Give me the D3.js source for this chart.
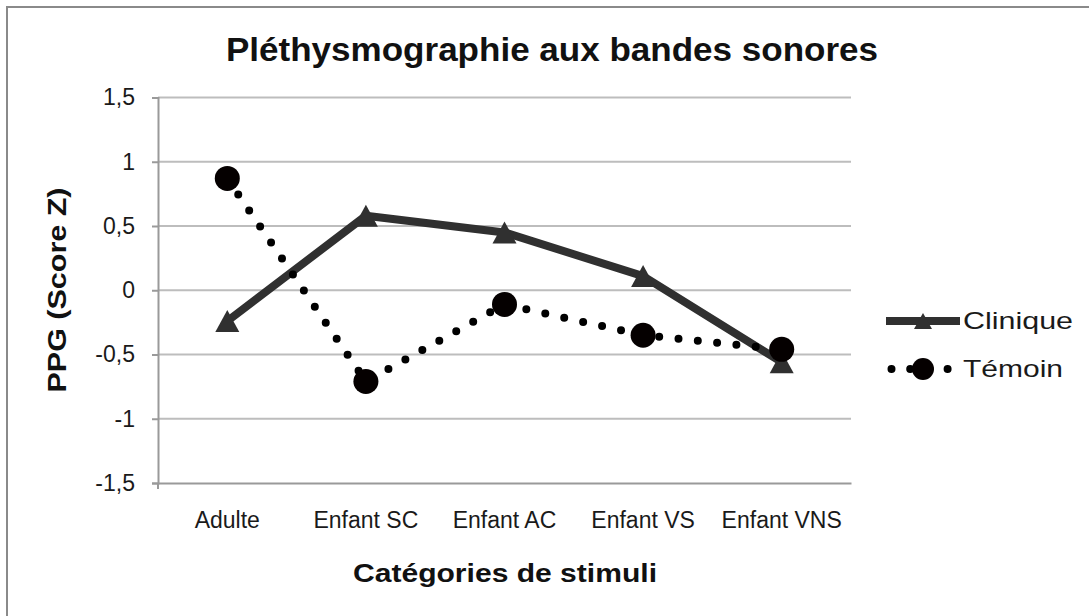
<!DOCTYPE html>
<html>
<head>
<meta charset="utf-8">
<script src="https://cdn.jsdelivr.net/npm/d3@7"></script>
<style>
  html, body { margin: 0; padding: 0; background: #fff; }
  svg { display: block; font-family: "Liberation Sans", Arial, sans-serif; }
</style>
</head>
<body>
<svg id="chart" width="1089" height="616"></svg>
<script>
const categories = ["Adulte", "Enfant SC", "Enfant AC", "Enfant VS", "Enfant VNS"];
const clinique = [-0.24, 0.58, 0.45, 0.11, -0.56];
const temoin = [0.87, -0.71, -0.11, -0.35, -0.46];
const yTicks = [-1.5, -1, -0.5, 0, 0.5, 1, 1.5];
const yTickLabels = ["-1,5", "-1", "-0,5", "0", "0,5", "1", "1,5"];
const seriesNames = ["Clinique", "Témoin"];
const titleText = "Pléthysmographie aux bandes sonores";
const xTitleText = "Catégories de stimuli";
const yTitleText = "PPG (Score Z)";

const svg = d3.select("#chart");
const W = 1089, H = 616;
const plot = { left: 158, right: 851, top: 97.5, bottom: 483 };

// frame
svg.append("rect").attr("x", 7).attr("y", 7).attr("width", 1200).attr("height", 800)
  .attr("fill", "#fff").attr("stroke", "#8a8a8a").attr("stroke-width", 2);

const x = d3.scaleBand().domain(categories).range([plot.left, plot.right]).padding(0);
const y = d3.scaleLinear().domain([-1.5, 1.5]).range([plot.bottom, plot.top]);
const cx = c => x(c) + x.bandwidth() / 2;

// gridlines
svg.append("g").selectAll("line").data(yTicks.filter(t => t !== -1.5)).join("line")
  .attr("x1", plot.left).attr("x2", plot.right)
  .attr("y1", d => y(d)).attr("y2", d => y(d))
  .attr("stroke", "#bdbdbd").attr("stroke-width", 2);

// y axis
const yAxis = d3.axisLeft(y).tickValues(yTicks).tickSize(6).tickPadding(17)
  .tickFormat((d, i) => yTickLabels[i]);
const gy = svg.append("g").attr("transform", `translate(${plot.left},0)`).call(yAxis);
gy.select(".domain").attr("stroke", "#9a9a9a").attr("stroke-width", 2);
gy.selectAll(".tick line").attr("stroke", "#9a9a9a").attr("stroke-width", 2);
gy.selectAll(".tick text").attr("font-size", 23).attr("fill", "#1a1a1a")
  .attr("font-family", "Liberation Sans, Arial, sans-serif");

// x axis
const xAxis = d3.axisBottom(x).tickSize(0).tickPadding(29);
const gx = svg.append("g").attr("transform", `translate(0,${plot.bottom})`).call(xAxis);
gx.select(".domain").attr("stroke", "#9a9a9a").attr("stroke-width", 2);
gx.selectAll(".tick text").attr("font-size", 23).attr("fill", "#1a1a1a")
  .attr("font-family", "Liberation Sans, Arial, sans-serif");
svg.append("line").attr("x1", plot.left).attr("x2", plot.left)
  .attr("y1", plot.bottom).attr("y2", plot.bottom + 6)
  .attr("stroke", "#9a9a9a").attr("stroke-width", 2);

// lines
const line = d3.line().x((d, i) => cx(categories[i])).y(d => y(d));

svg.append("path").datum(clinique).attr("d", line)
  .attr("fill", "none").attr("stroke", "#303030").attr("stroke-width", 8)
  .attr("stroke-linejoin", "round");

svg.append("path").datum(temoin).attr("d", line)
  .attr("fill", "none").attr("stroke", "#000").attr("stroke-width", 8)
  .attr("stroke-linecap", "round").attr("stroke-dasharray", "0 19.4");

const tri = (w, h) => `M0,${-h / 2}L${w / 2},${h / 2}L${-w / 2},${h / 2}Z`;

svg.append("g").selectAll("path").data(clinique).join("path")
  .attr("transform", (d, i) => `translate(${cx(categories[i])},${y(d)})`)
  .attr("d", tri(24, 22)).attr("fill", "#303030");

svg.append("g").selectAll("circle").data(temoin).join("circle")
  .attr("cx", (d, i) => cx(categories[i])).attr("cy", d => y(d))
  .attr("r", 12.5).attr("fill", "#050000");

// titles
svg.append("text").attr("x", 552).attr("y", 61).attr("text-anchor", "middle")
  .attr("font-size", 34).attr("font-weight", "bold").attr("fill", "#111")
  .attr("textLength", 652).attr("lengthAdjust", "spacingAndGlyphs").text(titleText);

svg.append("text").attr("x", 505).attr("y", 582).attr("text-anchor", "middle")
  .attr("font-size", 26).attr("font-weight", "bold").attr("fill", "#111")
  .attr("textLength", 304).attr("lengthAdjust", "spacingAndGlyphs").text(xTitleText);

svg.append("text").attr("transform", "translate(66,290) rotate(-90)").attr("text-anchor", "middle")
  .attr("font-size", 26).attr("font-weight", "bold").attr("fill", "#111")
  .attr("textLength", 205).attr("lengthAdjust", "spacingAndGlyphs").text(yTitleText);

// legend
const leg = svg.append("g");
const legY = [321, 369];
leg.append("line").attr("x1", 886).attr("x2", 960).attr("y1", legY[0]).attr("y2", legY[0])
  .attr("stroke", "#303030").attr("stroke-width", 8);
leg.append("path").attr("transform", `translate(923,${legY[0]})`).attr("d", tri(18, 16)).attr("fill", "#303030");
leg.append("line").attr("x1", 891.5).attr("x2", 960).attr("y1", legY[1]).attr("y2", legY[1])
  .attr("stroke", "#000").attr("stroke-width", 8).attr("stroke-linecap", "round")
  .attr("stroke-dasharray", "0 18.7");
leg.append("circle").attr("cx", 923).attr("cy", legY[1]).attr("r", 11).attr("fill", "#050000");
leg.selectAll("text").data(seriesNames).join("text")
  .attr("x", 963).attr("y", (d, i) => legY[i] + 8)
  .attr("font-size", 24).attr("fill", "#1a1a1a")
  .attr("textLength", (d, i) => i === 0 ? 110 : 100).attr("lengthAdjust", "spacingAndGlyphs")
  .text(d => d);
</script>
</body>
</html>
